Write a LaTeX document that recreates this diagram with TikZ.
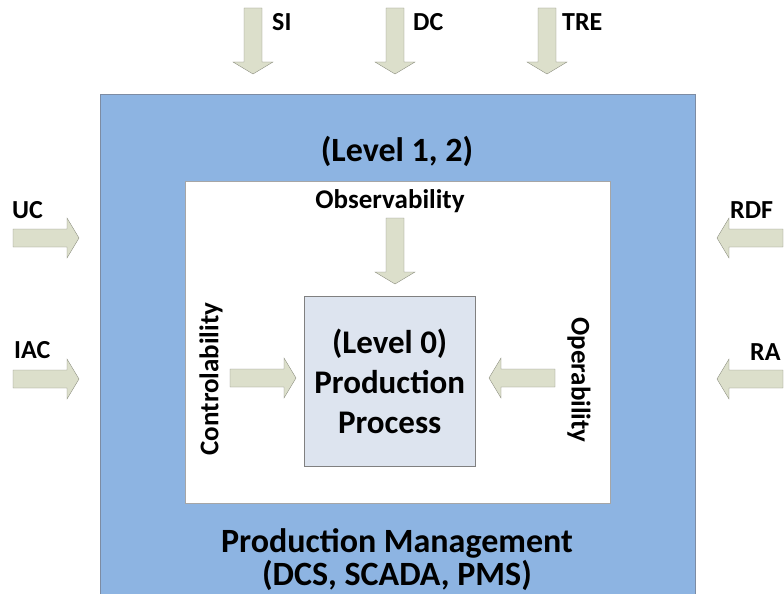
\documentclass[tikz,border=0pt]{standalone}
\usepackage{fontspec}
\setmainfont{Carlito}
\usepackage{tikz}
\definecolor{mgmtblue}{HTML}{8DB4E2}
\definecolor{mgmtline}{HTML}{7D8CA3}
\definecolor{procfill}{HTML}{DDE4EF}
\definecolor{arrowfill}{HTML}{DCDFCB}
\definecolor{arrowline}{HTML}{8C8E80}
\tikzset{
 blockarr/.pic={\draw[arrowline,fill=arrowfill] (0,-9)--(54,-9)--(54,-20)--(66,0)--(54,20)--(54,9)--(0,9)--cycle;},
 lbl/.style={font=\bfseries\fontsize{26}{30}\selectfont,inner sep=0pt},
 sublbl/.style={font=\bfseries\fontsize{27}{31}\selectfont,inner sep=0pt},
 biglbl/.style={font=\bfseries\fontsize{34}{40}\selectfont,inner sep=0pt,align=center},
}

\begin{document}
\begin{tikzpicture}[x=1pt,y=-1pt]
 \useasboundingbox (0,0) rectangle (784,594);
 \node[draw=mgmtline,fill=mgmtblue,anchor=north west,minimum width=595pt,minimum height=510pt] (mgmt) at (100,94) {};
 \node[draw=gray!70,fill=white,anchor=north west,minimum width=425pt,minimum height=322pt] (inner) at (185,181) {};
 \node[draw=gray,fill=procfill,anchor=north west,minimum width=171pt,minimum height=170pt,
  font=\bfseries\fontsize{33}{40}\selectfont,align=center] (proc) at (304,296) {(Level 0)\\Production\\Process};
 \pic[rotate=-90] at (253,8) {blockarr};
 \pic[rotate=-90] at (395,8) {blockarr};
 \pic[rotate=-90] at (547,8) {blockarr};
 \pic at (13,238) {blockarr};
 \pic at (13,379) {blockarr};
 \pic[rotate=180] at (783,238) {blockarr};
 \pic[rotate=180] at (783,379) {blockarr};
 \pic[rotate=-90] at (395,218) {blockarr};
 \pic at (230,378) {blockarr};
 \pic[rotate=180] at (555,378) {blockarr};
 \node[lbl,anchor=base west] (si) at (272,31) {SI};
 \node[lbl,anchor=base west] (dc) at (413,31) {DC};
 \node[lbl,anchor=base west] (tre) at (562,31) {TRE};
 \node[lbl,anchor=base west] (uc) at (12,218) {UC};
 \node[lbl,anchor=base west] (iac) at (14,358) {IAC};
 \node[lbl,anchor=base west] (rdf) at (730,218) {RDF};
 \node[lbl,anchor=base west] (ra) at (750,360) {RA};
 \node[biglbl] (lvl) at (397,151) {(Level 1, 2)};
 \node[sublbl] (obs) at (390,201) {Observability};
 \node[sublbl,rotate=90] (ctrl) at (211,379) {Controlability};
 \node[sublbl,rotate=-90] (oper) at (579,380) {Operability};
 \node[biglbl,anchor=base] (pm) at (397,552) {Production Management};
 \node[biglbl,anchor=base] (pmsys) at (397,585) {(DCS, SCADA, PMS)};
\end{tikzpicture}
\end{document}
